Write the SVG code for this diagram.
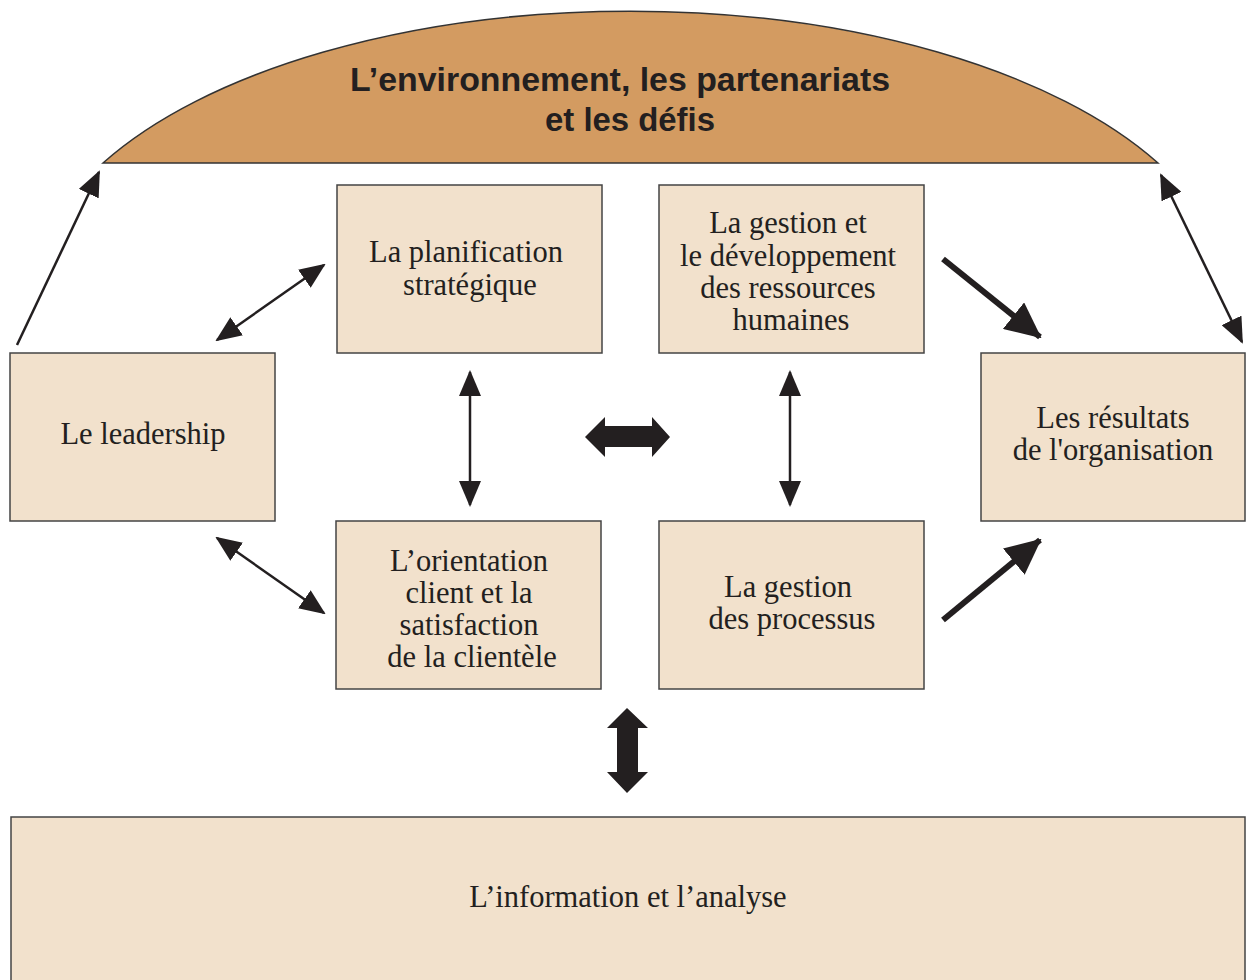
<svg xmlns="http://www.w3.org/2000/svg" width="1248" height="980" viewBox="0 0 1248 980">
<style>
.box{fill:#F2E1CC;stroke:#444;stroke-width:1.5}
.t{font-family:"Liberation Serif","Times New Roman",serif;font-size:30.5px;fill:#231F20;text-anchor:middle}
.title{font-family:"Liberation Sans",Arial,sans-serif;font-weight:bold;font-size:33px;fill:#231F20;text-anchor:middle}
.thin{stroke:#231F20;stroke-width:2.5;fill:none}
.thick{stroke:#231F20;stroke-width:6;fill:none}
.blk{fill:#231F20}
</style>
<defs>
<marker id="ah" markerUnits="userSpaceOnUse" markerWidth="26" markerHeight="22" refX="24" refY="11" orient="auto-start-reverse" viewBox="0 0 26 22"><path d="M0,0 L26,11 L0,22 Z" fill="#231F20"/></marker>
<marker id="ahb" markerUnits="userSpaceOnUse" markerWidth="36" markerHeight="34" refX="34" refY="17" orient="auto" viewBox="0 0 36 34"><path d="M0,0 L36,17 L0,34 Z" fill="#231F20"/></marker>
</defs>
<g id="dome">
<path d="M103,163 A600,290 0 0 1 1158,163 Z" fill="#D39B61" stroke="#333" stroke-width="1.5"/>
<text class="title" x="620" y="91" textLength="540" lengthAdjust="spacingAndGlyphs">L’environnement, les partenariats</text>
<text class="title" x="630" y="131" textLength="170" lengthAdjust="spacingAndGlyphs">et les défis</text>
</g>
<g id="leadership"><rect class="box" x="10" y="353" width="265" height="168"/><text class="t" x="143" y="444">Le leadership</text></g>
<g id="planification"><rect class="box" x="337" y="185" width="265" height="168"/><text class="t" x="466" y="262">La planification</text><text class="t" x="470" y="295">stratégique</text></g>
<g id="rh"><rect class="box" x="659" y="185" width="265" height="168"/><text class="t" x="788" y="233">La gestion et</text><text class="t" x="788" y="266">le développement</text><text class="t" x="788" y="298">des ressources</text><text class="t" x="791" y="330">humaines</text></g>
<g id="resultats"><rect class="box" x="981" y="353" width="264" height="168"/><text class="t" x="1113" y="428">Les résultats</text><text class="t" x="1113" y="460">de l'organisation</text></g>
<g id="orientation"><rect class="box" x="336" y="521" width="265" height="168"/><text class="t" x="469" y="571">L’orientation</text><text class="t" x="469" y="603">client et la</text><text class="t" x="469" y="635">satisfaction</text><text class="t" x="472" y="667">de la clientèle</text></g>
<g id="processus"><rect class="box" x="659" y="521" width="265" height="168"/><text class="t" x="788" y="597">La gestion</text><text class="t" x="792" y="629">des processus</text></g>
<g id="information"><rect class="box" x="11" y="817" width="1234" height="180"/><text class="t" x="628" y="907">L’information et l’analyse</text></g>
<g id="connectors">
<line class="thin" x1="17" y1="345" x2="99" y2="172" marker-end="url(#ah)"/>
<line class="thin" x1="217" y1="340" x2="324" y2="265" marker-start="url(#ah)" marker-end="url(#ah)"/>
<line class="thin" x1="1161" y1="175" x2="1242" y2="342" marker-start="url(#ah)" marker-end="url(#ah)"/>
<line class="thin" x1="217" y1="538" x2="324" y2="613" marker-start="url(#ah)" marker-end="url(#ah)"/>
<line class="thin" x1="470" y1="372" x2="470" y2="505" marker-start="url(#ah)" marker-end="url(#ah)"/>
<line class="thin" x1="790" y1="372" x2="790" y2="505" marker-start="url(#ah)" marker-end="url(#ah)"/>
<line class="thick" x1="943" y1="259" x2="1040" y2="337" marker-end="url(#ahb)"/>
<line class="thick" x1="943" y1="620" x2="1040" y2="540" marker-end="url(#ahb)"/>
<path class="blk" d="M585,437 L605,417 L605,426 L652,426 L652,417 L670,437 L652,457 L652,447 L605,447 L605,457 Z"/>
<path class="blk" d="M627,708 L648,728 L638,728 L638,772 L648,772 L627,793 L607,772 L617,772 L617,728 L607,728 Z"/>
</g>
</svg>
